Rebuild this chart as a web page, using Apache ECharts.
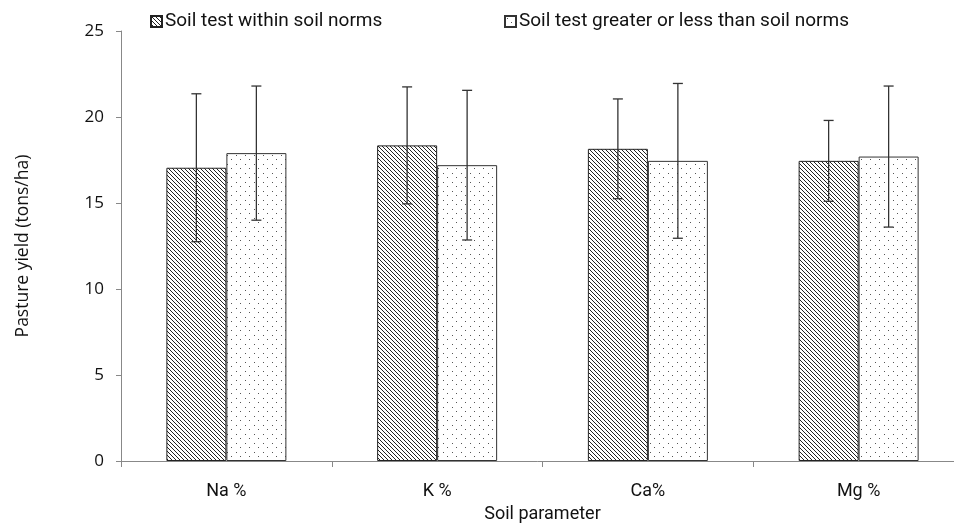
<!DOCTYPE html>
<html>
<head>
<meta charset="utf-8">
<script src="https://cdn.jsdelivr.net/npm/echarts@6/dist/echarts.min.js"></script>
<style>
html, body { margin: 0; padding: 0; background: #fff; }
#chart { width: 954px; height: 525px; }
</style>
</head>
<body>
<div id="chart"></div>
<script>
// data
var categories = ['Na %', 'K %', 'Ca%', 'Mg %'];
var seriesNames = ['Soil test within soil norms', 'Soil test greater or less than soil norms'];
var withinMean = [17.05, 18.35, 18.15, 17.45];
var withinErr = [4.3, 3.4, 2.9, 2.35];
var outsideMean = [17.9, 17.2, 17.45, 17.7];
var outsideErr = [3.9, 4.35, 4.5, 4.1];
var yTicks = [0, 5, 10, 15, 20, 25];

// fill patterns
function hatchPattern() {
    var c = document.createElement('canvas');
    c.width = 8; c.height = 8;
    var ctx = c.getContext('2d');
    ctx.fillStyle = '#fff';
    ctx.fillRect(0, 0, 8, 8);
    ctx.strokeStyle = '#222';
    ctx.lineWidth = 1;
    for (var x = -8; x <= 8; x += 4) {
        ctx.beginPath();
        ctx.moveTo(x, 0);
        ctx.lineTo(x + 8, 8);
        ctx.stroke();
    }
    return c;
}
function dotPattern() {
    var c = document.createElement('canvas');
    c.width = 9; c.height = 9;
    var ctx = c.getContext('2d');
    ctx.fillStyle = '#fff';
    ctx.fillRect(0, 0, 9, 9);
    ctx.fillStyle = '#555';
    ctx.fillRect(2, 2, 1, 1);
    ctx.fillRect(6, 6, 1, 1);
    return c;
}

var hatchFill = { image: hatchPattern(), repeat: 'repeat' };
var dotFill = { image: dotPattern(), repeat: 'repeat' };

var barW = 60;
function errorSeries(means, errs, shift) {
    return {
        type: 'custom',
        silent: true,
        z: 5,
        data: means.map(function (m, i) { return [i, m - errs[i], m + errs[i]]; }),
        renderItem: function (params, api) {
            var lo = api.coord([api.value(0), api.value(1)]);
            var hi = api.coord([api.value(0), api.value(2)]);
            var x = lo[0] + shift;
            var cap = 5;
            var st = { stroke: '#333', lineWidth: 1.3 };
            return {
                type: 'group',
                children: [
                    { type: 'line', shape: { x1: x, y1: hi[1], x2: x, y2: lo[1] }, style: st },
                    { type: 'line', shape: { x1: x - cap, y1: hi[1], x2: x + cap, y2: hi[1] }, style: st },
                    { type: 'line', shape: { x1: x - cap, y1: lo[1], x2: x + cap, y2: lo[1] }, style: st }
                ]
            };
        }
    };
}

var font = 'Roboto, "Open Sans", sans-serif';
var chart = echarts.init(document.getElementById('chart'));
chart.setOption({
    animation: false,
    textStyle: { fontFamily: font },
    legend: [{
        left: 145, top: 7,
        data: [seriesNames[0]],
        itemWidth: 11, itemHeight: 11, itemGap: 4,
        icon: 'rect',
        textStyle: { fontSize: 19, color: '#111', fontFamily: font, padding: [0, 0, 0, -2] }
    }, {
        left: 499, top: 7,
        data: [seriesNames[1]],
        itemWidth: 11, itemHeight: 11, itemGap: 4,
        icon: 'rect',
        textStyle: { fontSize: 19, color: '#111', fontFamily: font, padding: [0, 0, 0, -2] }
    }],
    grid: { left: 121, top: 31, bottom: 64, right: -10, outerBoundsMode: 'none', containLabel: false },
    xAxis: {
        type: 'category',
        data: categories,
        name: 'Soil parameter',
        nameLocation: 'middle',
        nameGap: 44,
        nameTextStyle: { fontSize: 18, color: '#111', fontFamily: font },
        axisLine: { lineStyle: { color: '#888' } },
        axisTick: { show: true, length: 6, lineStyle: { color: '#888' } },
        axisLabel: { fontSize: 18, color: '#111', margin: 21, fontFamily: font }
    },
    yAxis: {
        type: 'value',
        min: yTicks[0],
        max: yTicks[yTicks.length - 1],
        interval: 5,
        name: 'Pasture yield (tons/ha)',
        nameLocation: 'middle',
        nameGap: 89,
        nameTextStyle: { fontSize: 17.5, color: '#111', fontFamily: '"Open Sans", sans-serif' },
        axisLine: { show: true, lineStyle: { color: '#888' } },
        axisTick: { show: true, length: 5, lineStyle: { color: '#888' } },
        splitLine: { show: false },
        axisLabel: { fontSize: 17, color: '#111', margin: 17, fontFamily: '"Open Sans", sans-serif' }
    },
    series: [{
        name: seriesNames[0],
        type: 'bar',
        data: withinMean,
        barWidth: barW,
        barGap: '0%',
        itemStyle: { color: hatchFill, borderColor: '#222', borderWidth: 1 }
    }, {
        name: seriesNames[1],
        type: 'bar',
        data: outsideMean,
        barWidth: barW,
        barGap: '0%',
        itemStyle: { color: dotFill, borderColor: '#333', borderWidth: 1 }
    },
    errorSeries(withinMean, withinErr, -barW / 2),
    errorSeries(outsideMean, outsideErr, barW / 2)]
});
</script>
</body>
</html>
